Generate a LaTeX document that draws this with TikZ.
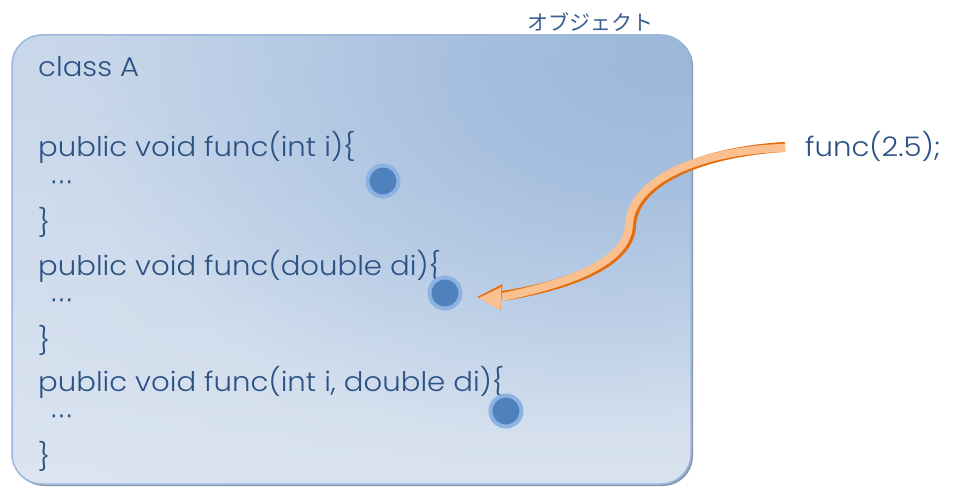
\documentclass[tikz,border=0pt]{standalone}
\usepackage{fontspec}
\setmainfont{Poppins Light}[FakeStretch=1.08]
\newfontfamily\cjk{Noto Sans CJK JP}
\newfontfamily\dvs{DejaVu Sans}
\usetikzlibrary{fadings}
\definecolor{txt}{HTML}{2B5185}
\definecolor{jtxt}{HTML}{3A5F8F}
\definecolor{bord}{HTML}{9BB7DD}
\definecolor{shadowc}{HTML}{6F7F96}
\definecolor{dotin}{HTML}{4F81BD}
\definecolor{dotout}{HTML}{8DB3E2}
\definecolor{arrlight}{HTML}{FAC090}
\definecolor{arrdark}{HTML}{E46C0A}
\definecolor{g0}{HTML}{94B2D7}
\definecolor{g1}{HTML}{A8C0DF}
\definecolor{g2}{HTML}{C2D3E9}
\definecolor{g3}{HTML}{D8E2EF}
\definecolor{g4}{HTML}{DCE5F1}
\pgfdeclareradialshading{boxshade}{\pgfpoint{25bp}{25bp}}{color(0bp)=(g0); color(14bp)=(g1); color(26bp)=(g2); color(36bp)=(g3); color(50bp)=(g4); color(100bp)=(g4)}
\tikzfading[name=topdark, top color=transparent!65, middle color=transparent!100, bottom color=transparent!100]
\begin{document}
\begin{tikzpicture}[x=1pt,y=-1pt,
  code/.style={anchor=base west, inner sep=0pt, text=txt, font=\fontsize{27}{32}\selectfont},
  dots/.style={anchor=base west, inner sep=0pt, text height=12pt, text depth=0pt, text=txt, font=\dvs\fontsize{23}{26}\selectfont},
  dotnode/.style={circle, minimum size=31pt, inner sep=0pt, fill=dotin, draw=dotout, line width=4pt}]
\useasboundingbox (0,0) rectangle (954,487);
\fill[white] (0,0) rectangle (954,487);
% object box
\fill[shadowc, opacity=0.8, rounded corners=30pt] (14,36) rectangle (693,486);
\shade[rounded corners=30pt, shading=boxshade] (12,35) rectangle (691,484);
\fill[g1, rounded corners=30pt, path fading=topdark] (12,35) rectangle (691,484);
\draw[bord, line width=1.5pt, rounded corners=30pt] (12,35) rectangle (691,484);
\node[anchor=base, inner sep=0pt, text=jtxt, font=\cjk\fontsize{21}{24}\selectfont] (obj) at (590,31) {オブジェクト};
% code
\node[code] (cls) at (38,77) {class A};
\node[code] (f1) at (38,157) {public void func(int i)\{};
\node[dots] (e1) at (50,189) {⋯};
\node[code] (c1) at (38,232) {\}};
\node[code] (f2) at (38,275) {public void func(double di)\{};
\node[dots] (e2) at (50,307) {⋯};
\node[code] (c2) at (38,350) {\}};
\node[code] (f3) at (38,391) {public void func(int i, double di)\{};
\node[dots] (e3) at (50,423) {⋯};
\node[code] (c3) at (38,466) {\}};
% dots
\node[dotnode] (p1) at (383,181) {};
\node[dotnode] (p2) at (445,293) {};
\node[dotnode] (p3) at (506,411) {};
% call
\node[code] (call) at (805,157) {func(2.5);};
% arrow
\coordinate (as) at ([xshift=-20pt,yshift=-1pt]call.west);
\coordinate (ah) at ([xshift=15pt,yshift=-4pt]p2.east);
\draw[arrdark, line width=10pt] ([yshift=1pt]as) .. controls (700,152) and (633,181) .. (631,226) .. controls (629,266) and (560,287) .. ([xshift=25pt,yshift=1pt]ah);
\draw[arrlight, line width=8pt] (as) .. controls (700,150) and (631,180) .. (629,225) .. controls (627,265) and (560,285) .. ([xshift=25pt]ah);
\fill[arrdark] (ah) -- ([xshift=23pt,yshift=-13pt]ah) -- ([xshift=25pt,yshift=13pt]ah) -- cycle;
\fill[arrlight] ([xshift=1pt,yshift=-1pt]ah) -- ([xshift=23pt,yshift=-13pt]ah) -- ([xshift=24pt,yshift=10pt]ah) -- cycle;
\end{tikzpicture}
\end{document}
